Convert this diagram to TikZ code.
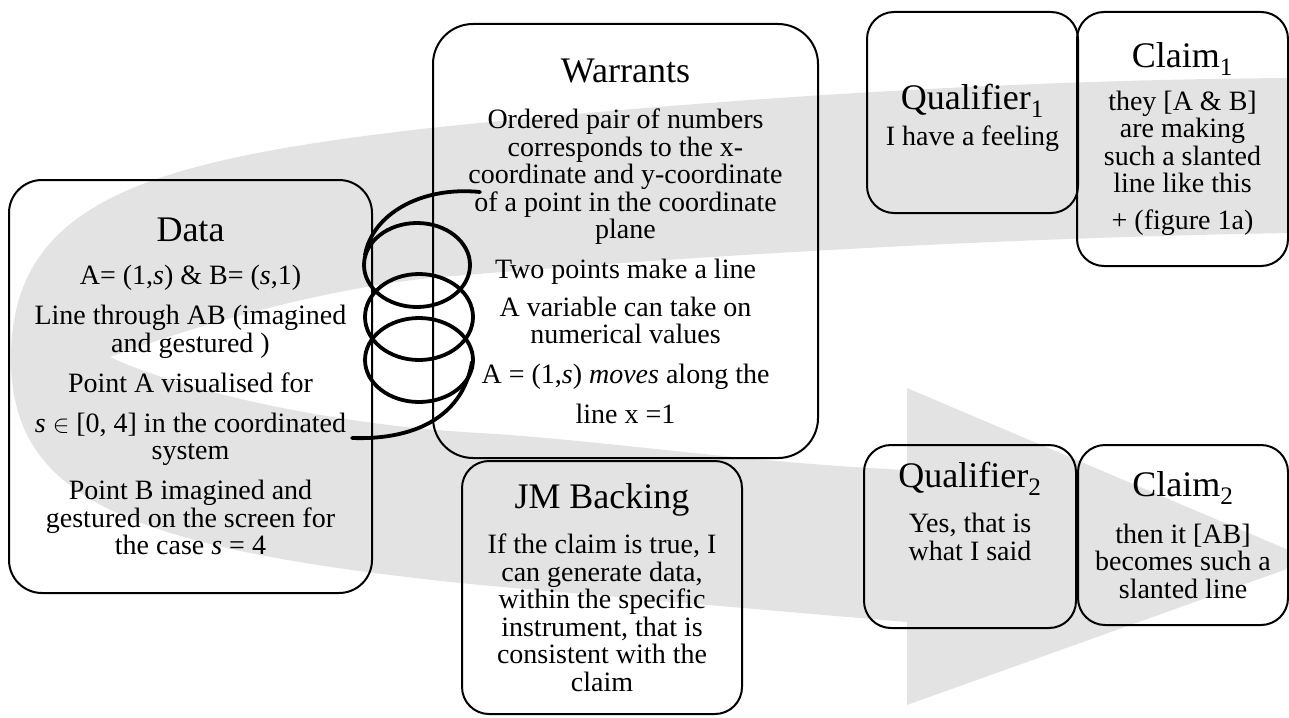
\documentclass[tikz,border=0pt]{standalone}
\usepackage{fontspec}
\setmainfont{Liberation Serif}
\definecolor{bandgray}{RGB}{227,227,227}
\newcommand{\heading}[1]{{\fontsize{36}{40}\selectfont #1}}

\begin{document}
\begin{tikzpicture}[x=1pt, y=-1pt,
    box/.style={draw, line width=2pt, rounded corners=27pt},
    txt/.style={align=center, inner sep=0pt, font=\fontsize{28}{27.5}\selectfont},
    coil/.style={line width=3.8pt, line cap=round}]
    \useasboundingbox (0,0) rectangle (1289,717);
    % grey U-turn arrow in the background
    \fill[bandgray] (1289,78) .. controls (1000,80) and (700,100) .. (430,128)
        .. controls (150,160) and (10,200) .. (11,360)
        .. controls (12,500) and (130,550) .. (480,585)
        .. controls (650,600) and (800,613) .. (907,622)
        -- (907,705) -- (1312,560) -- (907,388) -- (907,470)
        .. controls (750,463) and (600,440) .. (480,433)
        .. controls (330,425) and (180,390) .. (110,357)
        .. controls (170,335) and (300,292) .. (430,278)
        .. controls (700,255) and (1000,238) .. (1289,233) -- cycle;
    % Data
    \node[box, rounded corners=33pt, minimum width=363pt, minimum height=413pt] (data) at (190.5,386.5) {};
    \node[txt] (datatxt) at (data.center) {\heading{Data}\\[15.5pt]
        A= (1,\textit{s}) \& B= (\textit{s},1)\\[12.5pt]
        Line through AB (imagined\\ and gestured )\\[12.5pt]
        Point A visualised for\\[12.5pt]
        \textit{s} $\in$ [0, 4] in the coordinated\\ system\\[12.5pt]
        Point B imagined and\\ gestured on the screen for\\ the case \textit{s} = 4};
    % Warrants
    \node[box, rounded corners=40pt, minimum width=385pt, minimum height=434pt] (warr) at (625.5,241) {};
    \node[txt] (warrtxt) at (warr.center) {\heading{Warrants}\\[19pt]
        Ordered pair of numbers\\ corresponds to the x-\\ coordinate and y-coordinate\\
        of a point in the coordinate\\ plane\\[12.5pt]
        Two points make a line\\[10pt]
        A variable can take on\\ numerical values\\[12.5pt]
        A = (1,\textit{s}) \textit{moves} along the\\[12pt]
        line x =1};
    % JM Backing
    \node[box, minimum width=280pt, minimum height=253pt] (back) at (602,587.5) {};
    \node[txt] (backtxt) at (back.center) {\heading{JM Backing}\\[17.5pt]
        If the claim is true, I\\ can generate data,\\ within the specific\\
        instrument, that is\\ consistent with the\\ claim};
    % Qualifier 1 and Claim 1
    \node[box, minimum width=211pt, minimum height=201pt] (qone) at (972.5,112.5) {};
    \node[txt, yshift=-5.7pt] (qonetxt) at (qone.center) {\heading{Qualifier\textsubscript{1}}\\[7.5pt]
        I have a feeling};
    \node[box, minimum width=211pt, minimum height=254pt] (cone) at (1182.5,139) {};
    \node[txt] (conetxt) at (cone.center) {\heading{Claim\textsubscript{1}}\\[15.5pt]
        they [A \& B]\\ are making\\ such a slanted\\ line like this\\[9.5pt]
        + (figure 1a)};
    % Qualifier 2 and Claim 2
    \node[box, minimum width=212pt, minimum height=183pt] (qtwo) at (970,536.5) {};
    \node[txt, yshift=25pt] (qtwotxt) at (qtwo.center) {\heading{Qualifier\textsubscript{2}}\\[16.5pt]
        Yes, that is\\ what I said};
    \node[box, minimum width=210pt, minimum height=180pt] (ctwo) at (1183,535) {};
    \node[txt] (ctwotxt) at (ctwo.center) {\heading{Claim\textsubscript{2}}\\[18.5pt]
        then it [AB]\\ becomes such a\\ slanted line};
    % coil between Data and Warrants
    \draw[coil] (480,192) .. controls (420,186) and (372,215) .. (365,255);
    \draw[coil] (417,265) ellipse [x radius=53pt, y radius=42pt];
    \draw[coil] (419,317) ellipse [x radius=54pt, y radius=43pt];
    \draw[coil] (419,360) ellipse [x radius=54pt, y radius=42pt];
    \draw[coil] (472,362) .. controls (462,420) and (410,440) .. (352,438);
\end{tikzpicture}
\end{document}
